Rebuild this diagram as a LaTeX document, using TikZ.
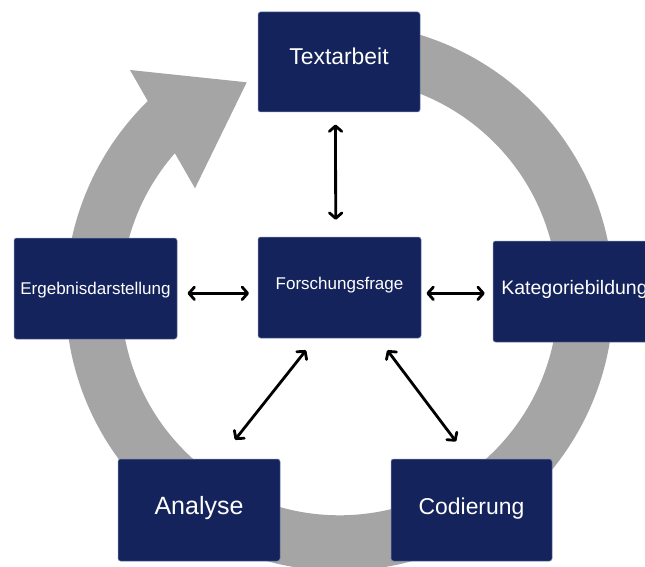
\documentclass[tikz,border=0pt]{standalone}
\usepackage{fontspec}
\setmainfont{Liberation Sans}
\usetikzlibrary{arrows.meta,calc}

\definecolor{boxnavy}{RGB}{20,35,91}
\definecolor{boxedge}{RGB}{120,132,175}
\definecolor{ringgray}{RGB}{165,165,165}

\begin{document}
\begin{tikzpicture}[x=1pt,y=1pt,
  stage/.style={rectangle, rounded corners=2.5pt, fill=boxnavy, draw=boxedge,
    line width=0.5pt, minimum width=163pt, minimum height=101pt,
    inner sep=0pt, text=white, align=center},
  dblarrow/.style={line width=2.8pt, black,
    {Straight Barb[length=5.5pt,width=12.5pt,round]}-{Straight Barb[length=5.5pt,width=12.5pt,round]}}
]
\useasboundingbox (0,0) rectangle (645,566);
\clip (0,0) rectangle (645,566);
\fill[white] (0,0) rectangle (645,566);

% centre of the cycle ring
\coordinate (c) at (339.5,269.2);

% cycle ring with its arrow head pointing back to the top
\fill[ringgray]
  ($(c)+(90:274)$) arc[start angle=90, end angle=-225.6, radius=274pt]
  -- (130,496) -- (246.7,483.7) -- (195,377.7)
  -- ($(c)+(-221.1:218.5)$) arc[start angle=-221.1, end angle=90, radius=218.5pt]
  -- cycle;

% process stages
\node[stage, minimum width=162pt, minimum height=100pt,
  font=\fontsize{22.9pt}{27pt}\selectfont, text height=16.4pt, text depth=11.6pt]
  (ta) at (339,504) {Textarbeit};
\node[stage, font=\fontsize{17pt}{20pt}\selectfont, text height=12.2pt, text depth=7.6pt]
  (fq) at (339.5,278.5) {Forschungsfrage};
\node[stage, font=\fontsize{17pt}{20pt}\selectfont, text height=12.2pt, text depth=1pt]
  (eg) at (95.5,277.5) {Ergebnisdarstellung};
\node[stage, font=\fontsize{19.5pt}{23pt}\selectfont, text height=14pt, text depth=9pt]
  (kb) at (574.5,274.5) {Kategoriebildung};
\node[stage, minimum width=162pt, minimum height=102pt,
  font=\fontsize{25pt}{30pt}\selectfont, text height=17.9pt, text depth=8pt]
  (an) at (199,56) {Analyse};
\node[stage, minimum width=161pt, minimum height=102pt,
  font=\fontsize{22.9pt}{27pt}\selectfont, text height=16.4pt, text depth=8pt]
  (co) at (471.5,56) {Codierung};

% links between the research question and the stages
\draw[dblarrow] ([shift={(-3.5,-12.3)}]ta.south) -- ([shift={(-3.8,17)}]fq.north);
\draw[dblarrow] ([shift={(10.3,-4.8)}]eg.east) -- ([shift={(-8.7,-5.8)}]fq.west);
\draw[dblarrow] ([shift={(5.2,-5.8)}]fq.east) -- ([shift={(-8,-1.8)}]kb.west);
\draw[dblarrow] ([shift={(-33.5,-12)}]fq.south) -- ([shift={(36,19)}]an.north);
\draw[dblarrow] ([shift={(47.8,-12)}]fq.south) -- ([shift={(-15.5,17.3)}]co.north);
\end{tikzpicture}
\end{document}
